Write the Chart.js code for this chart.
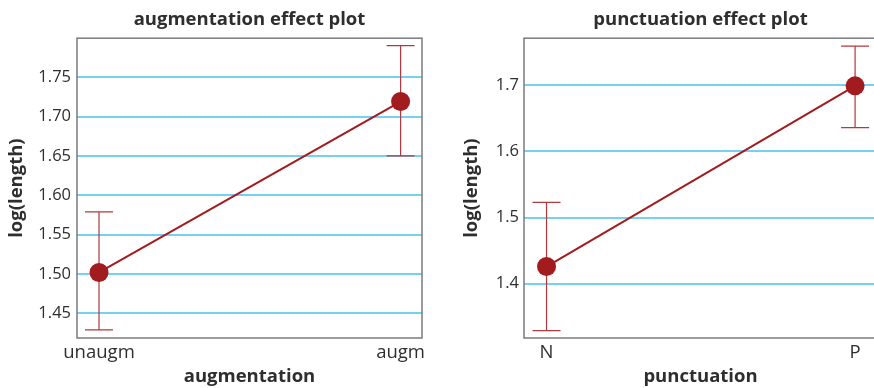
<!DOCTYPE html>
<html>
<head>
<meta charset="utf-8">
<title>effect plots</title>
<script src="https://cdn.jsdelivr.net/npm/chart.js@4/dist/chart.umd.min.js"></script>
<style>
  html, body { margin: 0; padding: 0; background: #fff; overflow: hidden; width: 874px; height: 388px; }
  .panel { position: absolute; top: 0; height: 388px; }
  #left { left: 0; width: 437px; }
  #right { left: 437px; width: 460px; }
</style>
</head>
<body>
<div class="panel" id="left"><canvas id="augChart"></canvas></div>
<div class="panel" id="right"><canvas id="puncChart"></canvas></div>
<script>
// augmentation effect
var augLevels = ['unaugm', 'augm'];
var augFit = [1.502, 1.719];
var augLower = [1.429, 1.650];
var augUpper = [1.579, 1.790];
var augTicks = [1.45, 1.50, 1.55, 1.60, 1.65, 1.70, 1.75];

// punctuation effect
var puncLevels = ['N', 'P'];
var puncFit = [1.426, 1.699];
var puncLower = [1.329, 1.636];
var puncUpper = [1.523, 1.759];
var puncTicks = [1.4, 1.5, 1.6, 1.7];

var textColor = '#2e2e2e';
var lineColor = '#a11b1f';
var barColor = '#b2393d';
var gridColor = '#76d1f1';

Chart.defaults.font.family = "'Open Sans', 'Noto Sans', sans-serif";
Chart.defaults.color = textColor;

// box round the plotting area
var framePlugin = {
  id: 'frame',
  beforeDatasetsDraw: function (chart) {
    var a = chart.chartArea, ctx = chart.ctx;
    ctx.save();
    ctx.strokeStyle = '#7b7b7b';
    ctx.lineWidth = 1.5;
    ctx.strokeRect(a.left, a.top, a.right - a.left, a.bottom - a.top);
    ctx.restore();
  }
};

// confidence intervals with caps, drawn under the points
var errorBarPlugin = {
  id: 'errorBars',
  beforeDatasetsDraw: function (chart, args, opts) {
    var ctx = chart.ctx, xs = chart.scales.x, ys = chart.scales.y;
    ctx.save();
    ctx.strokeStyle = opts.color;
    ctx.lineWidth = 1.2;
    opts.lower.forEach(function (lo, i) {
      var px = xs.getPixelForValue(i + 1);
      var y0 = ys.getPixelForValue(lo);
      var y1 = ys.getPixelForValue(opts.upper[i]);
      var h = opts.capWidth / 2;
      ctx.beginPath();
      ctx.moveTo(px, y0); ctx.lineTo(px, y1);
      ctx.moveTo(px - h, y0); ctx.lineTo(px + h, y0);
      ctx.moveTo(px - h, y1); ctx.lineTo(px + h, y1);
      ctx.stroke();
    });
    ctx.restore();
  }
};

function buildEffectPlot(id, cfg) {
  var points = cfg.fit.map(function (v, i) {
    return { x: i + 1, y: v };
  });
  return new Chart(document.getElementById(id), {
    type: 'scatter',
    data: {
      datasets: [{
        data: points,
        showLine: true,
        borderColor: lineColor,
        borderWidth: 2,
        backgroundColor: lineColor,
        pointBackgroundColor: lineColor,
        pointBorderWidth: 0,
        pointRadius: 9.5,
        pointHoverRadius: 9.5
      }]
    },
    options: {
      responsive: true,
      maintainAspectRatio: false,
      animation: false,
      layout: { padding: { top: 0, right: cfg.padRight, bottom: 0, left: 0 } },
      plugins: {
        legend: { display: false },
        tooltip: { enabled: false },
        title: {
          display: true,
          text: cfg.title,
          fullSize: false,
          color: textColor,
          font: { size: 18.5, weight: 'bold' },
          padding: { top: 9, bottom: 7 }
        },
        errorBars: { lower: cfg.lower, upper: cfg.upper, capWidth: 28, color: barColor }
      },
      scales: {
        x: {
          type: 'linear',
          min: 0.927,
          max: 2.071,
          grid: { display: false, drawTicks: false },
          border: { display: false },
          afterBuildTicks: function (s) {
            s.ticks = cfg.levels.map(function (l, i) { return { value: i + 1 }; });
          },
          afterFit: function (s) { s.height = 50; },
          ticks: {
            padding: 4,
            color: textColor,
            font: { size: 18.5 },
            maxRotation: 0,
            callback: function (v) { return cfg.levels[v - 1]; }
          },
          title: {
            display: true,
            text: cfg.xTitle,
            color: textColor,
            font: { size: 18.5, weight: 'bold' },
            padding: { top: 0, bottom: 0 }
          }
        },
        y: {
          min: cfg.yMin,
          max: cfg.yMax,
          grid: { color: gridColor, lineWidth: 2, drawTicks: false },
          border: { display: false },
          afterBuildTicks: function (s) {
            s.ticks = cfg.ticks.map(function (v) { return { value: v }; });
          },
          afterFit: function (s) { s.width = cfg.yWidth; },
          ticks: {
            padding: cfg.tickPad,
            color: textColor,
            font: { size: 16.5 },
            callback: function (v) { return v.toFixed(cfg.digits); }
          },
          title: {
            display: true,
            text: 'log(length)',
            color: textColor,
            font: { size: 18.5, weight: 'bold' },
            padding: { top: cfg.titlePad, bottom: 0 }
          }
        }
      }
    },
    plugins: [framePlugin, errorBarPlugin]
  });
}

buildEffectPlot('augChart', {
  title: 'augmentation effect plot',
  xTitle: 'augmentation',
  levels: augLevels,
  fit: augFit,
  lower: augLower,
  upper: augUpper,
  ticks: augTicks,
  digits: 2,
  yMin: 1.4187,
  yMax: 1.7995,
  yWidth: 77,
  tickPad: 6,
  titlePad: 6,
  padRight: 15
});

buildEffectPlot('puncChart', {
  title: 'punctuation effect plot',
  xTitle: 'punctuation',
  levels: puncLevels,
  fit: puncFit,
  lower: puncLower,
  upper: puncUpper,
  ticks: puncTicks,
  digits: 1,
  yMin: 1.318,
  yMax: 1.771,
  yWidth: 87,
  tickPad: 5,
  titlePad: 24,
  padRight: 20
});
</script>
</body>
</html>
